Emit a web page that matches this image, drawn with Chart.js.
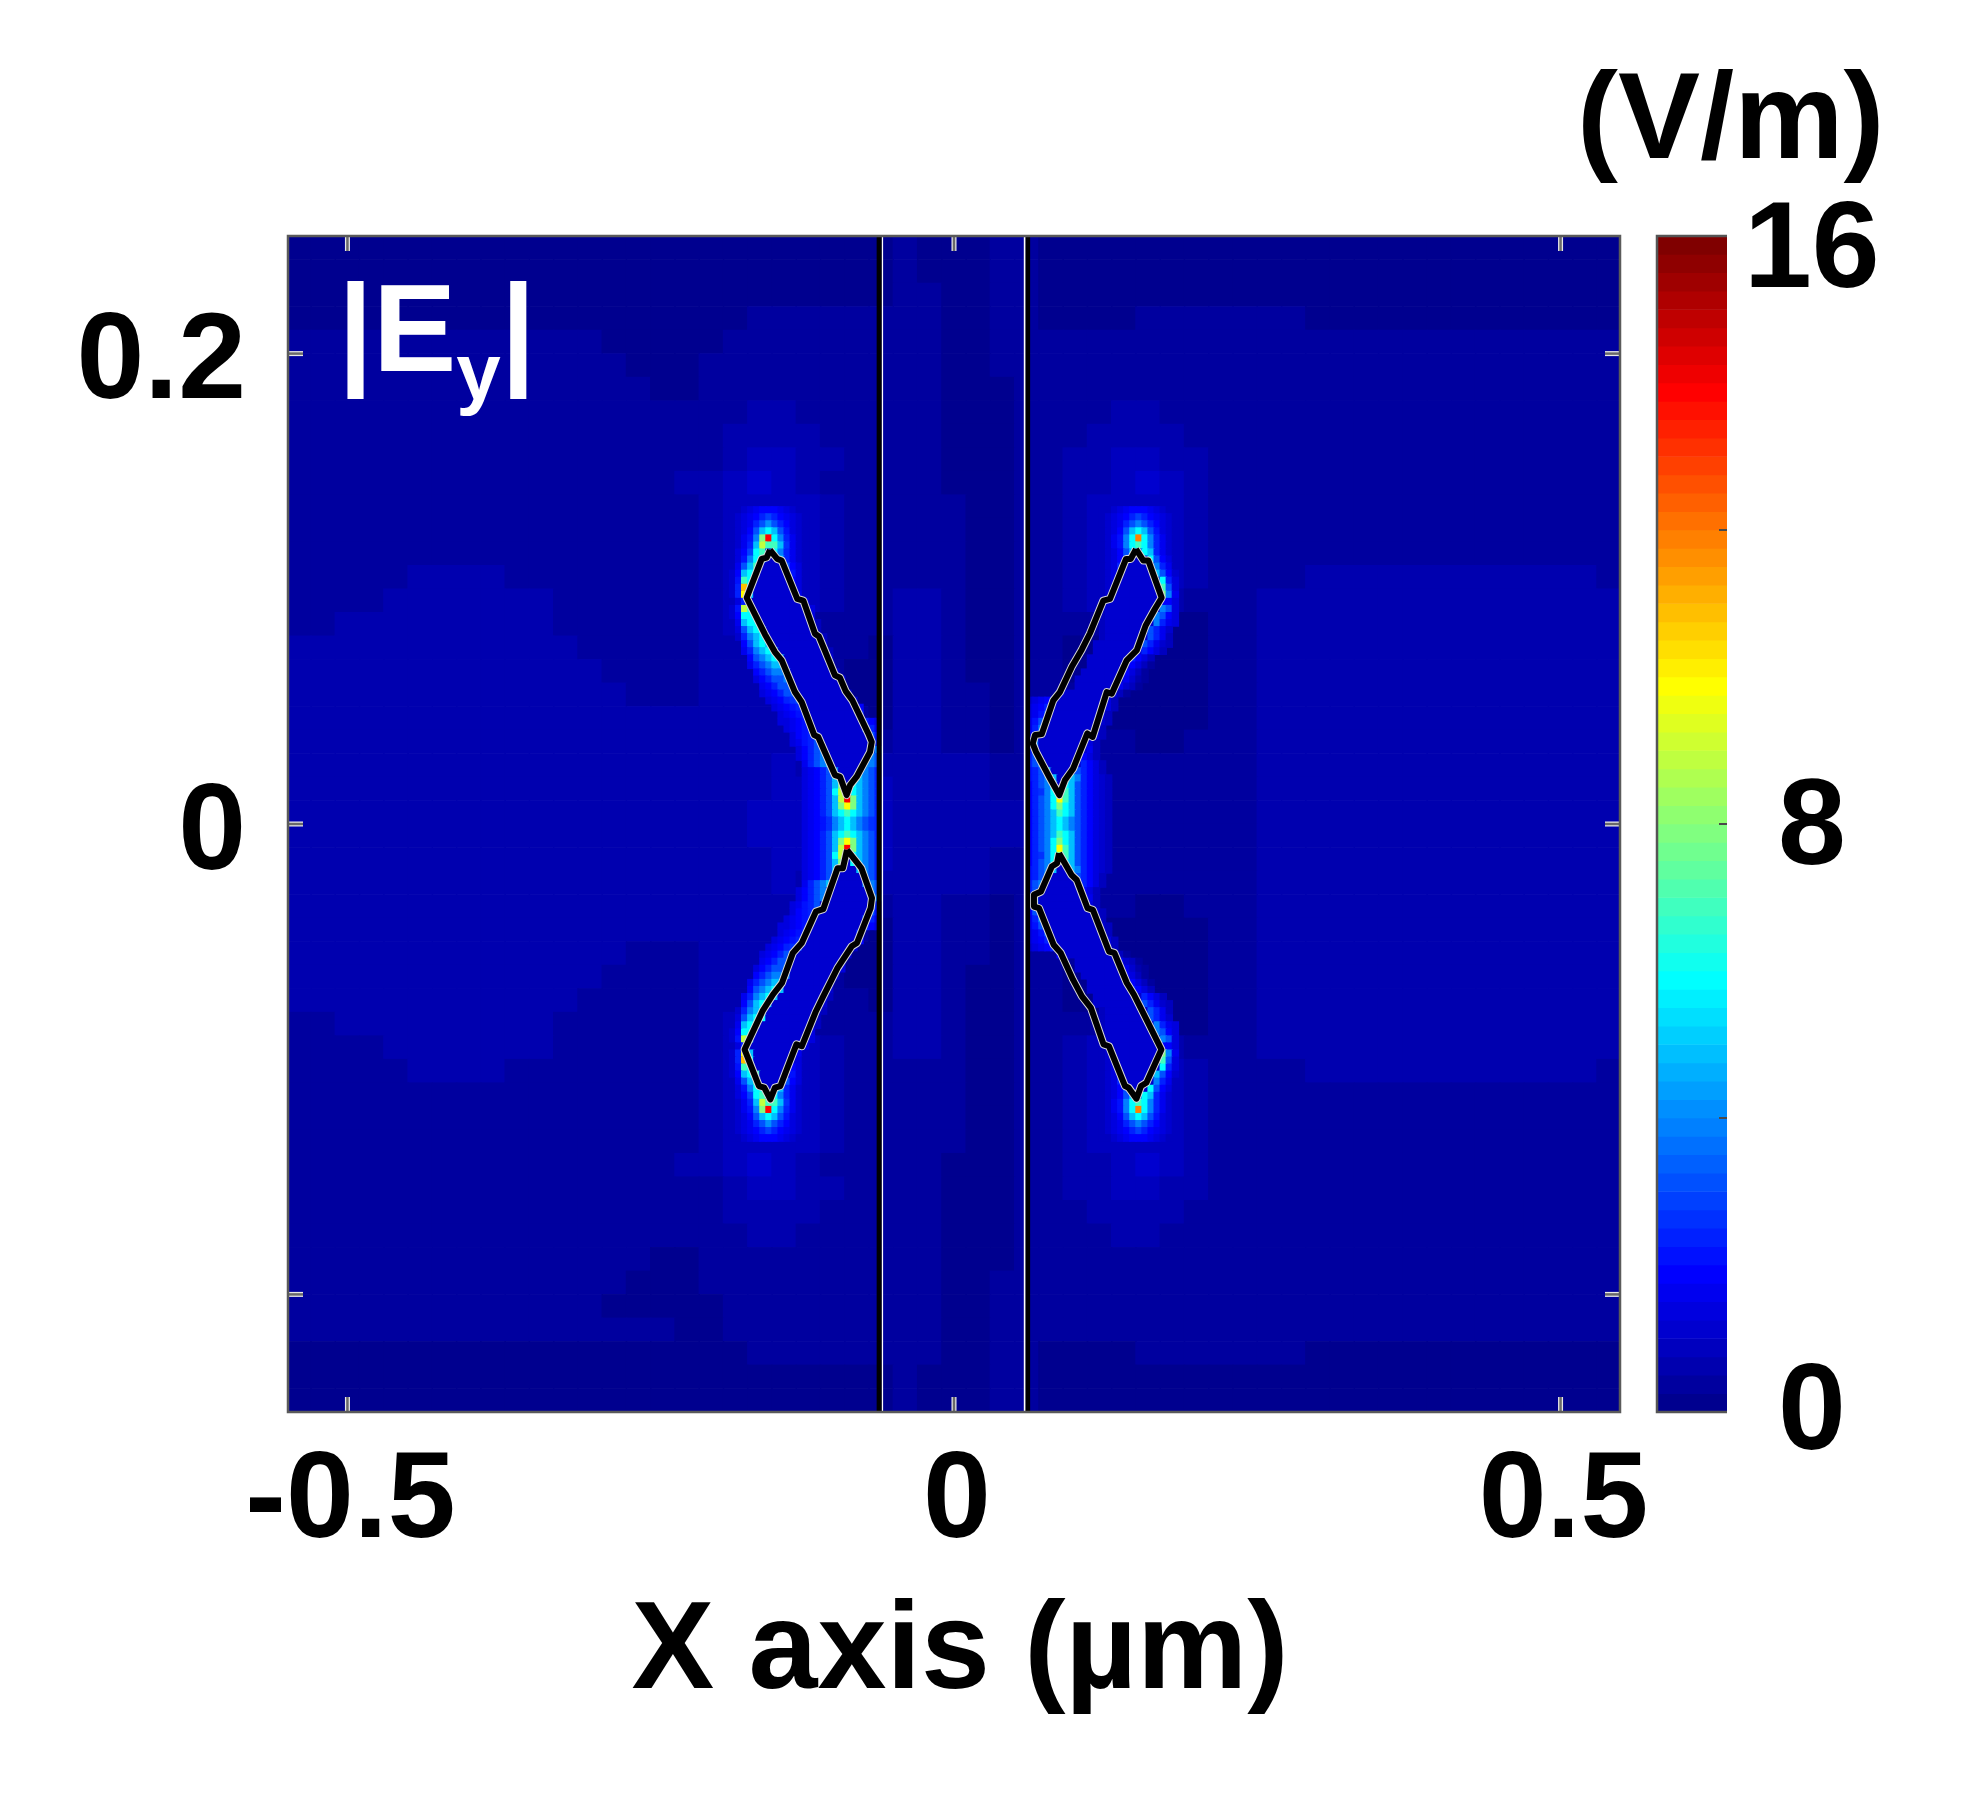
<!DOCTYPE html>
<html>
<head>
<meta charset="utf-8">
<title>|Ey| field map</title>
<script src="https://cdn.jsdelivr.net/npm/chart.js@4"></script>
<style>
html, body { margin: 0; padding: 0; background: #fff; width: 1961px; height: 1793px; overflow: hidden; }
canvas { position: absolute; top: 0; }
#field { left: 0; }
#scale { left: 1640px; }
.label { position: absolute; font: bold 123px/1 "Liberation Sans", Arial, sans-serif; white-space: nowrap; }
#unit { left: 1577px; top: 54px; color: #000; }
#ey { left: 338px; top: 265px; color: #fff; font-size: 125px; }
#ey span { font-size: 80px; position: relative; top: 28px; }
#xlabel { left: 0; width: 1920px; top: 1583px; text-align: center; color: #000; font-size: 124px; }
</style>
</head>
<body>
<canvas id="field" width="1961" height="1793"></canvas>
<canvas id="scale" width="321" height="1793"></canvas>
<div class="label" id="unit">(V/m)</div>
<div class="label" id="ey">|E<span>y</span>|</div>
<div class="label" id="xlabel">X axis (µm)</div>
<script>
// axes
const xMin = -0.549, xMax = 0.549, yMin = -0.25, yMax = 0.25;
const xTickValues = [-0.5, 0, 0.5];
const xTickLabels = ['-0.5', '0', '0.5'];
const yTickValues = [-0.2, 0, 0.2];
const yTickLabels = ['', '0', '0.2'];
const barMarkValues = [4, 8, 12];
// labels sit a little off their marks in the picture, 0 slightly high and 16 low
const barLabelValues = [0.03, 8, 15.85];
const barTickLabels = ['0', '8', '16'];

// colorbar steps in V/m, one jet colour each
const barEdges = [0, 0.25, 0.5, 0.75, 1, 1.25, 1.5, 1.75, 2, 2.25, 2.5, 2.75, 3, 3.25, 3.5, 3.75,
    4, 4.25, 4.5, 4.75, 5, 5.25, 5.5, 5.75, 6, 6.25, 6.5, 6.75, 7, 7.25, 7.5, 7.75,
    8, 8.25, 8.5, 8.75, 9, 9.25, 9.5, 9.75, 10, 10.25, 10.5, 10.75, 11, 11.25, 11.5, 11.75,
    12, 12.25, 12.5, 12.75, 13, 13.25, 13.5, 13.75, 14, 14.25, 14.5, 14.75, 15, 15.25, 15.5, 15.75, 16];

// slab edges (um)
const slabBlackX = [-0.0617, 0.0607];
const slabWhiteX = [-0.0591, 0.0582];

// bowtie outlines (um)
const rodTopLeftX = [-0.1517, -0.1457, -0.1420, -0.1292, -0.1242, -0.1146, -0.1113, -0.1063, -0.0981, -0.0940, -0.0893, -0.0838, -0.0707, -0.0678, -0.0692, -0.0802, -0.0857, -0.0885, -0.0940, -0.0981, -0.1119, -0.1152, -0.1256, -0.1311, -0.1420, -0.1476, -0.1558, -0.1709, -0.1585, -0.1544];
const rodTopLeftY = [0.1165, 0.1127, 0.1120, 0.0957, 0.0950, 0.0809, 0.0797, 0.0735, 0.0632, 0.0622, 0.0565, 0.0526, 0.0385, 0.0349, 0.0307, 0.0201, 0.0165, 0.0123, 0.0201, 0.0208, 0.0370, 0.0378, 0.0519, 0.0561, 0.0696, 0.0731, 0.0806, 0.0962, 0.1127, 0.1133];
const rodTopRightX = [0.1500, 0.1561, 0.1602, 0.1712, 0.1657, 0.1580, 0.1506, 0.1424, 0.1300, 0.1259, 0.1143, 0.1099, 0.0983, 0.0915, 0.0868, 0.0791, 0.0676, 0.0649, 0.0668, 0.0723, 0.0819, 0.0874, 0.0970, 0.1053, 0.1121, 0.1231, 0.1286, 0.1418, 0.1457];
const rodTopRightY = [0.1169, 0.1120, 0.1120, 0.0962, 0.0915, 0.0844, 0.0738, 0.0696, 0.0554, 0.0561, 0.0370, 0.0385, 0.0236, 0.0187, 0.0123, 0.0194, 0.0307, 0.0342, 0.0378, 0.0382, 0.0526, 0.0561, 0.0667, 0.0741, 0.0811, 0.0950, 0.0957, 0.1127, 0.1127];
const rodBottomLeftX = [-0.0882, -0.0805, -0.0763, -0.0676, -0.0687, -0.0800, -0.0843, -0.0960, -0.1078, -0.1138, -0.1255, -0.1299, -0.1431, -0.1476, -0.1514, -0.1564, -0.1608, -0.1726, -0.1579, -0.1492, -0.1418, -0.1328, -0.1255, -0.1138, -0.1078, -0.0960, -0.0916];
const rodBottomLeftY = [-0.0110, -0.0160, -0.0188, -0.0315, -0.0358, -0.0506, -0.0520, -0.0612, -0.0733, -0.0796, -0.0945, -0.0937, -0.1114, -0.1121, -0.1171, -0.1121, -0.1114, -0.0959, -0.0796, -0.0725, -0.0676, -0.0548, -0.0506, -0.0372, -0.0362, -0.0188, -0.0188];
const rodBottomRightX = [0.0866, 0.0968, 0.1012, 0.1101, 0.1145, 0.1278, 0.1322, 0.1425, 0.1483, 0.1586, 0.1710, 0.1586, 0.1542, 0.1504, 0.1439, 0.1410, 0.1278, 0.1233, 0.1129, 0.1055, 0.0981, 0.0880, 0.0821, 0.0701, 0.0659, 0.0659, 0.0717, 0.0806, 0.0849];
const rodBottomRightY = [-0.0124, -0.0216, -0.0238, -0.0358, -0.0365, -0.0542, -0.0548, -0.0676, -0.0725, -0.0831, -0.0959, -0.1100, -0.1114, -0.1168, -0.1121, -0.1114, -0.0945, -0.0937, -0.0782, -0.0733, -0.0662, -0.0548, -0.0513, -0.0358, -0.0351, -0.0301, -0.0287, -0.0181, -0.0167];

// field cells are stored as jet level codes, one level = 0.25 V/m
const levelCodes = '0123456789abcdefghijklmnopqrstuvwxyzABCDEFGHIJKLMNOPQRSTUVWXYZ';

// coarse background, 0.02 x 0.01 um cells: left | between slab edges | right
const coarseX0 = -0.55, coarseY0 = 0.25, coarseDx = 0.02, coarseDy = 0.01;
const coarseRows = [
    '0000000000000000000000000|100011|000000000000000000000000',
    '0000000000000000000000000|100011|000000000000000000000000',
    '0000000000000000000000000|110011|000000000000000000000000',
    '0000000000000000000111111|110011|000011111110000000000000',
    '1111111111111000001111111|110011|111111111111111111111111',
    '1111111111111100011111111|110011|111111111111111111111111',
    '1111111111111110011111111|110001|111111111111111111111111',
    '1111111111111111111221111|110001|111221111111111111111111',
    '1111111111111111112222111|110001|112222111111111111111111',
    '1111111111111111112332211|110001|122332211111111111111111',
    '1111111111111111223432111|110001|122343211111111111111111',
    '1111111111111111123333211|111001|123333211111111111111111',
    '1111111111111111123333211|111001|123333211111111111111111',
    '1111111111111111123333211|111001|123333211111111111111111',
    '1111122221111111123333211|111001|123333211112222222222221',
    '1111222222211111123333211|221001|123332111222222222222222',
    '1122222222211111123321111|221001|111100011222222222222222',
    '2222222222221111122211110|221001|100000011222222222222222',
    '2222222222222111122221100|221001|100000011222222222222222',
    '2222222222222211122221100|221101|110000011222222222222222',
    '2222222222222222222221110|221101|110000011222222222222222',
    '2222222222222222222222111|221101|111100111222222222222222',
    '2222222222222222222232222|222211|211111111222222222222222',
    '2222222222222222222233333|222211|321111111222222222222222',
    '2222222222222222222333333|222222|332111111222222222222222',
    '2222222222222222222333333|222222|332111111222222222222222',
    '2222222222222222222233333|222211|321111111222222222222222',
    '2222222222222222222232222|222211|211111111222222222222222',
    '2222222222222222222222111|221101|111100111222222222222222',
    '2222222222222222222221110|221101|110000011222222222222222',
    '2222222222222211122221100|221101|110000011222222222222222',
    '2222222222222111122221100|221001|100000011222222222222222',
    '2222222222221111122211110|221001|100000011222222222222222',
    '1122222222211111123321111|221001|111100011222222222222222',
    '1111222222211111123333211|221001|123332111222222222222222',
    '1111122221111111123333211|111001|123333211112222222222221',
    '1111111111111111123333211|111001|123333211111111111111111',
    '1111111111111111123333211|111001|123333211111111111111111',
    '1111111111111111123333211|111001|123333211111111111111111',
    '1111111111111111223432111|110001|122343211111111111111111',
    '1111111111111111112332211|110001|122332211111111111111111',
    '1111111111111111112222111|110001|112222111111111111111111',
    '1111111111111111111221111|110001|111221111111111111111111',
    '1111111111111110011111111|110001|111111111111111111111111',
    '1111111111111100011111111|110011|111111111111111111111111',
    '1111111111111000001111111|110011|111111111111111111111111',
    '1111111111111111001111111|110011|111111111111111111111111',
    '0000000000000000000111111|110011|000011111110000000000000',
    '0000000000000000000000000|100011|000000000000000000000000',
    '0000000000000000000000000|100011|000000000000000000000000'
];

// fine cells near the rods, 0.005 x 0.003 um: [first column, level codes]
const fineDx = 0.005, fineDy = 0.003, fineY0 = 0.135;
const fineLeftX0 = -0.2, fineRightX0 = 0.06;
const fineLeftRows = [
    [3, '334567776543'], [3, '345679b976543'], [3, '34569cgc97543'], [3, '3457cjnjc8543'],
    [3, '3468fvTnf9643'], [3, '3469jzrrja643'], [3, '357bnr4nf9643'], [3, '358fnn44j9643'],
    [3, '36cjr4444c753'], [3, '47jnr44444853'], [3, '48rn444444753'], [3, '49Hn444444453'],
    [3, '49Dj444444463'], [3, '3594444444445'], [3, '48zr4444444445'], [3, '47nn4444444445'],
    [3, '36jnn4444444443'], [4, '5cjnn444444443'], [4, '49fjn4444444443'], [5, '7cjnj444444444'],
    [5, '69fjnj444444443'], [6, '7cfjnj44444444'], [6, '69cfjj44444444'], [7, '79cfff44444444'],
    [7, '579ccf444444445'], [8, '679cc444444444'], [8, '5679cc444444444'], [9, '5679ac444444444'],
    [10, '567894444444447'], [11, '56789444444449'], [11, '55678444444444975'], [12, '5678944444444c96'],
    [13, '5789a44444444c8'], [13, '5689c44444444f9'], [14, '579cf44444444f'], [14, '579cf4444444fc'],
    [15, '69cfj44444ffc'], [15, '5679cf4444fc9'], [15, '5679cj444jfc9'], [15, '5679cjv4njfc9'],
    [15, '5679cnzvnjfc9'], [15, '5679cjzTvjfc9'], [15, '5679cjvDvjfc9'], [15, '5679cjnrnjfc9'],
    [15, '5678afjnjfca9'],
    [15, '5678afjnjfca9'],
    [15, '5679cjnrnjfc9'], [15, '5679cjvDvjfc9'], [15, '5679cjzTvjfc9'], [15, '5679cnzvnjfc9'],
    [15, '5679cjv4njfc9'], [15, '5679cj444jfc9'], [15, '5679cf4444fc9'], [15, '69cfj44444ffc'],
    [14, '579cf4444444fc'], [14, '579cf44444444f'], [13, '5689c44444444f9'], [13, '5789a44444444c8'],
    [12, '5678944444444c96'], [11, '55678444444444975'], [11, '56789444444449'], [10, '567894444444447'],
    [9, '5679ac444444444'], [8, '5679cc444444444'], [8, '679cc444444444'], [7, '579ccf444444445'],
    [7, '79cfff44444444'], [6, '69cfjj44444444'], [6, '7cfjnj44444444'], [5, '69fjnj444444443'],
    [5, '7cjnj444444444'], [4, '49fjn4444444443'], [4, '5cjnn444444443'], [3, '36jnn4444444443'],
    [3, '47nn4444444445'], [3, '48zr4444444445'], [3, '3594444444445'], [3, '49Dj444444463'],
    [3, '49Hn444444453'], [3, '48rn444444753'], [3, '47jnr44444853'], [3, '36cjr4444c753'],
    [3, '358fnn44j9643'], [3, '357bnr4nf9643'], [3, '3469jzrrja643'], [3, '3468fvTnf9643'],
    [3, '3457cjnjc8543'], [3, '34569cgc97543'], [3, '345679b976543'], [3, '334567776543']
];
const fineRightRows = [
    [12, '334567776543'], [12, '345679b976543'], [12, '34569cfc97543'], [12, '3457cjnjc8543'],
    [12, '3468fnLnf9643'], [12, '3468fnrnf9643'], [12, '3457cj4nj9643'], [12, '3457c444nc753'],
    [12, '345944444f963'], [12, '345744444jc74'], [12, '3454444444n95'], [12, '3444444444rc5'],
    [12, '3444444444vf6'], [12, '3444444444775'], [12, '3444444444fc5'], [12, '344444444fc75'],
    [12, '344444444f965'], [12, '34444444c964'], [12, '34444444c963'], [11, '44444444c9643'],
    [11, '444444449753'], [10, '44444449753'], [10, '44444447531'], [9, '44444447531'],
    [8, '444444446421'], [8, '44444446431'], [5, '744444444531'], [0, '456794444444453'],
    [0, '567944444444453'], [0, '568c4444444453'], [0, '68c44444444443'], [0, '69f4444444443'],
    [0, '7c44444444453'], [0, '9f4444444453'], [0, '9f4444444463'], [0, '9c4444444753'],
    [0, '9cf4444449753'], [0, '89cj4444c9753'], [0, '89cfj44jf97543'], [0, '79cfn4njc97543'],
    [0, '79afnvrjc97543'], [0, '79cfnDrjc97543'], [0, '79cfnvnjc97543'], [0, '79cfjrnjc97543'],
    [0, '79cfjnjfc97543'],
    [0, '79cfjnjfc97543'],
    [0, '79cfjrnjc97543'], [0, '79cfnvnjc97543'], [0, '79cfnDrjc97543'], [0, '79afnvrjc97543'],
    [0, '79cfn4njc97543'], [0, '89cfj44jf97543'], [0, '89cj4444c9753'], [0, '9cf4444449753'],
    [0, '9c4444444753'], [0, '9f4444444463'], [0, '9f4444444453'], [0, '7c44444444453'],
    [0, '69f4444444443'], [0, '68c44444444443'], [0, '568c4444444453'], [0, '567944444444453'],
    [0, '456794444444453'], [5, '744444444531'], [8, '44444446431'], [8, '444444446421'],
    [9, '44444447531'], [10, '44444447531'], [10, '44444449753'], [11, '444444449753'],
    [11, '44444444c9643'], [12, '34444444c963'], [12, '34444444c964'], [12, '344444444f965'],
    [12, '344444444fc75'], [12, '3444444444fc5'], [12, '3444444444775'], [12, '3444444444vf6'],
    [12, '3444444444rc5'], [12, '3454444444n95'], [12, '345744444jc74'], [12, '345944444f963'],
    [12, '3457c444nc753'], [12, '3457cj4nj9643'], [12, '3468fnrnf9643'], [12, '3468fnLnf9643'],
    [12, '3457cjnjc8543'], [12, '34569cfc97543'], [12, '345679b976543'], [12, '334567776543']
];

// plot and colorbar frame in pixels
const plotLeft = 288, plotRight = 1620, plotTop = 236, plotBottom = 1412;
const pxPerX = (plotRight - plotLeft) / (xMax - xMin);
const fontFamily = '"Liberation Sans", Arial, sans-serif';
const tickFont = { family: fontFamily, weight: 'bold', size: 122 };

function jet(level) {
    const t = (level + 1) / 64;
    const clamp = v => Math.round(255 * Math.max(0, Math.min(1, v)));
    const r = clamp(Math.min(4 * t - 1.5, -4 * t + 4.5));
    const g = clamp(Math.min(4 * t - 0.5, -4 * t + 3.5));
    const b = clamp(Math.min(4 * t + 0.5, -4 * t + 2.5));
    return 'rgb(' + r + ',' + g + ',' + b + ')';
}

function cellDataset(cells, dx, order) {
    return {
        type: 'bar',
        order: order,
        grouped: false,
        barThickness: dx * pxPerX + 0.7, // slight overlap, no seams between columns
        data: cells.map(c => ({ x: c.x, y: c.y })),
        backgroundColor: cells.map(c => jet(c.level))
    };
}

function coarseCells() {
    const cells = [];
    coarseRows.forEach((row, j) => {
        row.replace(/\|/g, '').split('').forEach((code, i) => {
            const top = coarseY0 - j * coarseDy;
            cells.push({ x: coarseX0 + (i + 0.5) * coarseDx, y: [top - coarseDy, top], level: levelCodes.indexOf(code) });
        });
    });
    return cells;
}

function fineCells(rows, x0) {
    const cells = [];
    rows.forEach((row, r) => {
        row[1].split('').forEach((code, k) => {
            const top = fineY0 - r * fineDy;
            cells.push({ x: x0 + (row[0] + k + 0.5) * fineDx, y: [top - fineDy, top], level: levelCodes.indexOf(code) });
        });
    });
    return cells;
}

function outline(xs, ys, color, width, order) {
    const pts = xs.map((x, i) => ({ x: x, y: ys[i] }));
    pts.push(pts[0]);
    return { type: 'line', order: order, data: pts, borderColor: color, borderWidth: width, pointRadius: 0, tension: 0, borderJoinStyle: 'round' };
}

function slabLine(x, color, width) {
    return { type: 'line', order: 1, data: [{ x: x, y: yMin }, { x: x, y: yMax }], borderColor: color, borderWidth: width, pointRadius: 0 };
}

// frame and inward tick marks, the ticks come from the scales
const frameTicks = {
    id: 'frameTicks',
    afterDatasetsDraw(chart) {
        const a = chart.chartArea, ctx = chart.ctx;
        const mark = (x1, y1, x2, y2) => {
            ctx.strokeStyle = '#e8e8e8'; ctx.lineWidth = 5;
            ctx.beginPath(); ctx.moveTo(x1, y1); ctx.lineTo(x2, y2); ctx.stroke();
            ctx.strokeStyle = '#6a6a6a'; ctx.lineWidth = 2.5;
            ctx.beginPath(); ctx.moveTo(x1, y1); ctx.lineTo(x2, y2); ctx.stroke();
        };
        ctx.save();
        chart.scales.x.ticks.forEach(t => {
            const px = chart.scales.x.getPixelForValue(t.value);
            mark(px, a.top, px, a.top + 15);
            mark(px, a.bottom - 15, px, a.bottom);
        });
        chart.scales.y.ticks.forEach(t => {
            const py = chart.scales.y.getPixelForValue(t.value);
            mark(a.left, py, a.left + 15, py);
            mark(a.right - 15, py, a.right, py);
        });
        ctx.strokeStyle = '#5a5a5a';
        ctx.lineWidth = 2.5;
        ctx.strokeRect(a.left, a.top, a.right - a.left, a.bottom - a.top);
        ctx.restore();
    }
};

const barFrame = {
    id: 'barFrame',
    afterDatasetsDraw(chart) {
        const a = chart.chartArea, ctx = chart.ctx;
        ctx.save();
        ctx.strokeStyle = '#4a4a4a';
        ctx.lineWidth = 2;
        barMarkValues.forEach(v => {
            const py = chart.scales.y.getPixelForValue(v);
            ctx.beginPath(); ctx.moveTo(a.right - 8, py); ctx.lineTo(a.right, py); ctx.stroke();
        });
        ctx.strokeStyle = '#555';
        ctx.lineWidth = 2.5;
        ctx.beginPath();
        ctx.moveTo(a.right, a.top); ctx.lineTo(a.left, a.top); ctx.lineTo(a.left, a.bottom); ctx.lineTo(a.right, a.bottom);
        ctx.stroke();
        ctx.restore();
    }
};

new Chart(document.getElementById('field'), {
    type: 'bar',
    data: {
        datasets: [
            cellDataset(coarseCells(), coarseDx, 5),
            cellDataset(fineCells(fineLeftRows, fineLeftX0), fineDx, 4),
            cellDataset(fineCells(fineRightRows, fineRightX0), fineDx, 4),
            outline(rodTopLeftX, rodTopLeftY, '#d8d8d8', 8, 3),
            outline(rodTopLeftX, rodTopLeftY, '#000', 6, 2),
            outline(rodTopRightX, rodTopRightY, '#d8d8d8', 8, 3),
            outline(rodTopRightX, rodTopRightY, '#000', 6, 2),
            outline(rodBottomLeftX, rodBottomLeftY, '#d8d8d8', 8, 3),
            outline(rodBottomLeftX, rodBottomLeftY, '#000', 6, 2),
            outline(rodBottomRightX, rodBottomRightY, '#d8d8d8', 8, 3),
            outline(rodBottomRightX, rodBottomRightY, '#000', 6, 2),
            slabLine(slabBlackX[0], '#000', 5),
            slabLine(slabWhiteX[0], '#fff', 1.6),
            slabLine(slabWhiteX[1], '#fff', 1.6),
            slabLine(slabBlackX[1], '#000', 5)
        ]
    },
    options: {
        responsive: false,
        animation: false,
        layout: { padding: { top: plotTop, right: 1961 - plotRight, left: 0, bottom: 0 } },
        plugins: { legend: { display: false }, tooltip: { enabled: false } },
        scales: {
            x: {
                type: 'linear',
                min: xMin,
                max: xMax,
                offset: false,
                grid: { display: false, drawTicks: false },
                border: { display: false },
                afterBuildTicks: s => { s.ticks = xTickValues.map(v => ({ value: v })); },
                afterFit: s => { s.height = 1793 - plotBottom; },
                ticks: {
                    autoSkip: false,
                    maxRotation: 0,
                    padding: 18,
                    labelOffset: 3,
                    color: '#000',
                    font: tickFont,
                    callback: (v, i) => xTickLabels[i]
                }
            },
            y: {
                type: 'linear',
                min: yMin,
                max: yMax,
                grid: { display: false, drawTicks: false },
                border: { display: false },
                afterBuildTicks: s => { s.ticks = yTickValues.map(v => ({ value: v })); },
                afterFit: s => { s.width = plotLeft; },
                ticks: {
                    autoSkip: false,
                    padding: 42,
                    labelOffset: 11,
                    color: '#000',
                    font: tickFont,
                    callback: (v, i) => yTickLabels[i]
                }
            }
        }
    },
    plugins: [frameTicks]
});

new Chart(document.getElementById('scale'), {
    type: 'bar',
    data: {
        datasets: [{
            grouped: false,
            barThickness: 70,
            data: barEdges.slice(0, -1).map((e, i) => ({ x: 0.5, y: [e, barEdges[i + 1]] })),
            backgroundColor: barEdges.slice(0, -1).map((e, i) => jet(i))
        }]
    },
    options: {
        responsive: false,
        animation: false,
        layout: { padding: { top: plotTop, left: 17, right: 0, bottom: 1793 - plotBottom } },
        plugins: { legend: { display: false }, tooltip: { enabled: false } },
        scales: {
            x: { type: 'linear', min: 0, max: 1, offset: false, display: false },
            y: {
                type: 'linear',
                position: 'right',
                min: 0,
                max: 16,
                grid: { display: false, drawTicks: false },
                border: { display: false },
                afterBuildTicks: s => { s.ticks = barLabelValues.map(v => ({ value: v })); },
                afterFit: s => { s.width = 234; },
                ticks: {
                    autoSkip: false,
                    padding: 17,
                    crossAlign: 'center',
                    labelOffset: 6,
                    color: '#000',
                    font: tickFont,
                    callback: (v, i) => barTickLabels[i]
                }
            }
        }
    },
    plugins: [barFrame]
});
</script>
</body>
</html>
